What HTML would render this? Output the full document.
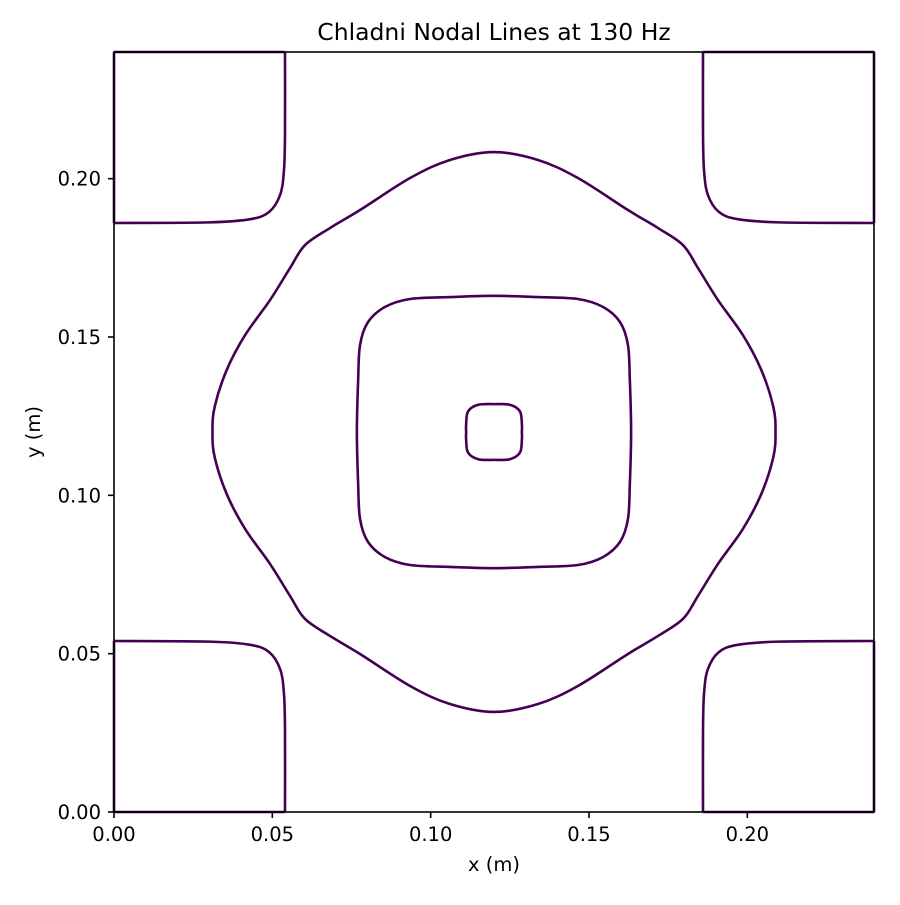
<!DOCTYPE html>
<html><head><meta charset="utf-8"><style>
body{margin:0;background:#fff;}
svg text{font-family:"DejaVu Sans","Liberation Sans",sans-serif;fill:#000;}
</style></head><body>
<svg id="chart" width="900" height="900" xmlns="http://www.w3.org/2000/svg">
<rect width="900" height="900" fill="#fff"/>
<text x="494" y="40" font-size="23.5" text-anchor="middle">Chladni Nodal Lines at 130 Hz</text>
<g id="plot"></g>
<g id="axes"></g>
<text x="494" y="871" font-size="19.5" text-anchor="middle">x (m)</text>
<text x="40" y="432" font-size="19.5" text-anchor="middle" transform="rotate(-90 40 432)">y (m)</text>
</svg>
<script>
const xTicks=[0,0.05,0.10,0.15,0.20];
const xTickLabels=["0.00","0.05","0.10","0.15","0.20"];
const yTicks=[0,0.05,0.10,0.15,0.20];
const yTickLabels=["0.00","0.05","0.10","0.15","0.20"];
const center=0.12;
// quarter contours (top-left quadrant), data units
const outerQuarter=[[0.12,0.2084],[0.1061,0.2059],[0.0935,0.2002],[0.0777,0.1901],[0.0682,0.1844],[0.0603,0.1790],[0.0556,0.1718],[0.0493,0.1617],[0.0414,0.1506],[0.0356,0.1396],[0.0318,0.1280],[0.0311,0.12]];
const middleQuarter=[[0.12,0.163],[0.1061,0.1626],[0.0935,0.1620],[0.0856,0.1595],[0.0802,0.1547],[0.0777,0.1475],[0.0771,0.1364],[0.0767,0.12]];
const innerQuarter=[[0.12,0.1288],[0.115,0.1286],[0.1118,0.1265],[0.1112,0.1225],[0.1112,0.12]];
const cornerCurve=[[0.054,0.24],[0.054,0.215],[0.0537,0.203],[0.0525,0.195],[0.049,0.1895],[0.043,0.1872],[0.030,0.1862],[0,0.186]];
const X0=114,X1=874,Y0=812,Y1=52,XMAX=0.24,YMAX=0.24;
const sx=v=>X0+(X1-X0)*v/XMAX, sy=v=>Y0-(Y0-Y1)*v/YMAX;
const NS="http://www.w3.org/2000/svg";
const plot=document.getElementById('plot'),axes=document.getElementById('axes');
function fullLoop(q){
  const c=center, a=q.slice();
  const b=q.slice(0,-1).reverse().map(p=>[p[0],2*c-p[1]]);
  const left=a.concat(b);
  const right=left.slice(1,-1).reverse().map(p=>[2*c-p[0],p[1]]);
  return left.concat(right);
}
function smoothPath(pts,closed){
  const P=pts.map(p=>[sx(p[0]),sy(p[1])]);const n=P.length;
  let d="M"+P[0][0].toFixed(2)+","+P[0][1].toFixed(2);
  const seg=closed?n:n-1;
  for(let i=0;i<seg;i++){
    const g=k=>closed?P[(k+n)%n]:P[Math.max(0,Math.min(n-1,k))];
    const p0=g(i-1),p1=g(i),p2=g(i+1),p3=g(i+2);
    const c1=[p1[0]+(p2[0]-p0[0])/6,p1[1]+(p2[1]-p0[1])/6];
    const c2=[p2[0]-(p3[0]-p1[0])/6,p2[1]-(p3[1]-p1[1])/6];
    d+=`C${c1[0].toFixed(2)},${c1[1].toFixed(2)} ${c2[0].toFixed(2)},${c2[1].toFixed(2)} ${p2[0].toFixed(2)},${p2[1].toFixed(2)}`;
  }
  return closed?d+"Z":d;
}
function addPath(d,name){
  const p=document.createElementNS(NS,'path');
  p.setAttribute('d',d);p.setAttribute('fill','none');p.setAttribute('stroke','#440154');p.setAttribute('stroke-width','2.6');
  
  
  plot.appendChild(p);
}
addPath(smoothPath(fullLoop(outerQuarter),true),'outer-nodal-line');
addPath(smoothPath(fullLoop(middleQuarter),true),'middle-nodal-line');
addPath(smoothPath(fullLoop(innerQuarter),true),'inner-nodal-line');
const corners=[[false,false,'top-left'],[true,false,'top-right'],[false,true,'bottom-left'],[true,true,'bottom-right']];
corners.forEach(([fx,fy,nm])=>{
  const pts=cornerCurve.map(p=>[fx?XMAX-p[0]:p[0],fy?YMAX-p[1]:p[1]]);
  addPath(smoothPath(pts,false),'corner-nodal-line-'+nm);
  const ex=fx?XMAX:0, ey=fy?0:YMAX, ey2=fy?YMAX-0.186:0.186, ex2=fx?XMAX-0.054:0.054;
  addPath(`M${sx(ex)},${sy(ey)}L${sx(ex)},${sy(ey2)}M${sx(ex)},${sy(ey)}L${sx(ex2)},${sy(ey)}`,'corner-edge-line-'+nm);
});
const frame=document.createElementNS(NS,'rect');
frame.setAttribute('x',X0);frame.setAttribute('y',Y1);frame.setAttribute('width',X1-X0);frame.setAttribute('height',Y0-Y1);
frame.setAttribute('fill','none');frame.setAttribute('stroke','#000');frame.setAttribute('stroke-width','1.6');


axes.appendChild(frame);
xTicks.forEach((v,i)=>{
  const l=document.createElementNS(NS,'line');
  l.setAttribute('x1',sx(v));l.setAttribute('x2',sx(v));l.setAttribute('y1',Y0);l.setAttribute('y2',Y0+6);l.setAttribute('stroke','#000');l.setAttribute('stroke-width','1.6');
  
  
  axes.appendChild(l);
  const t=document.createElementNS(NS,'text');
  t.setAttribute('x',sx(v));t.setAttribute('y',Y0+29);t.setAttribute('font-size','19.5');t.setAttribute('text-anchor','middle');
  t.textContent=xTickLabels[i];
  
  
  axes.appendChild(t);
});
yTicks.forEach((v,i)=>{
  const l=document.createElementNS(NS,'line');
  l.setAttribute('x1',X0-6);l.setAttribute('x2',X0);l.setAttribute('y1',sy(v));l.setAttribute('y2',sy(v));l.setAttribute('stroke','#000');l.setAttribute('stroke-width','1.6');
  
  
  axes.appendChild(l);
  const t=document.createElementNS(NS,'text');
  t.setAttribute('x',X0-13);t.setAttribute('y',sy(v)+7);t.setAttribute('font-size','19.5');t.setAttribute('text-anchor','end');
  t.textContent=yTickLabels[i];
  
  
  axes.appendChild(t);
});
</script>
</body></html>
